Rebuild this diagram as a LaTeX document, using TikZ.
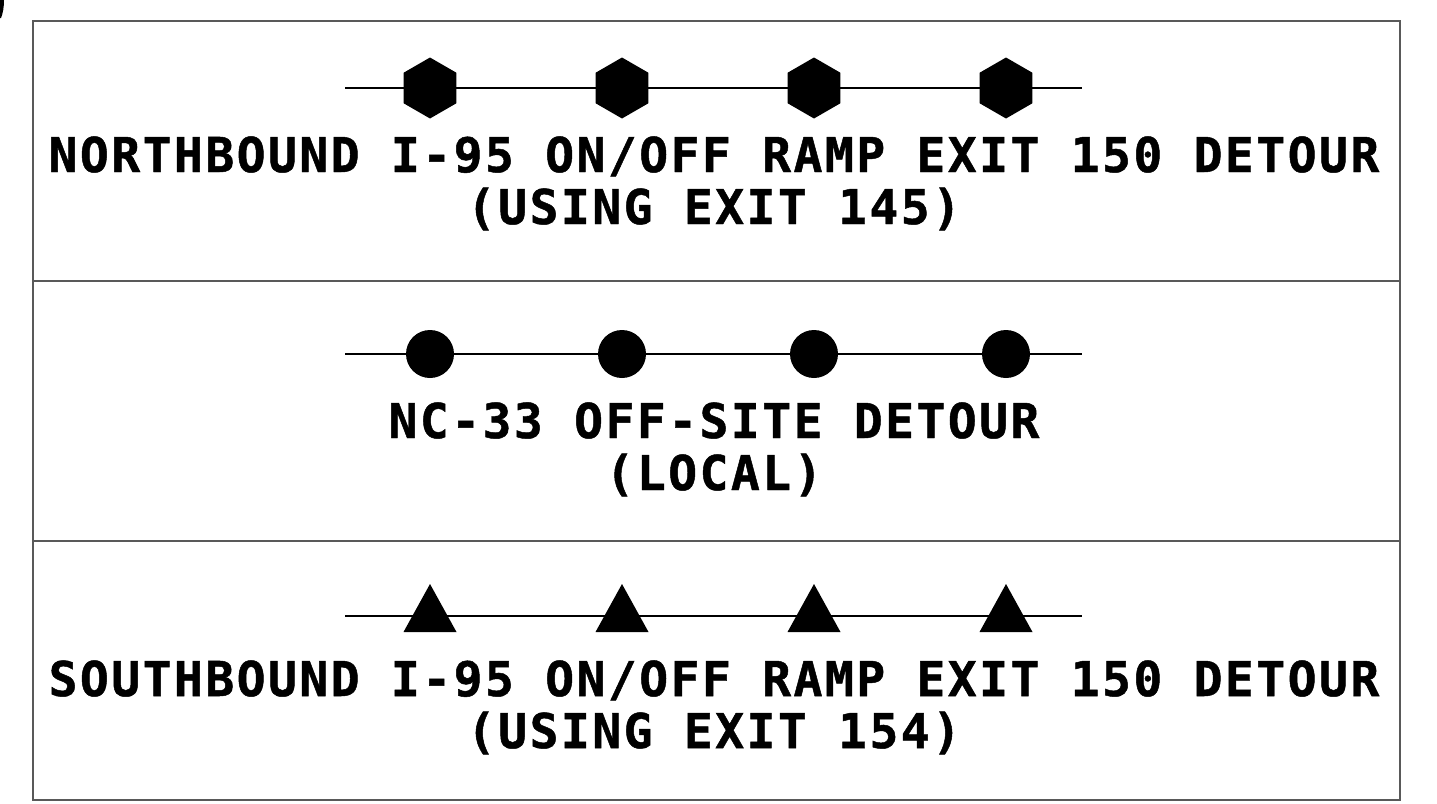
\documentclass[tikz,border=0pt]{standalone}
\usepackage{fontspec}
\newfontfamily\signfont[LetterSpace=5.1,BoldFeatures={FakeBold=1}]{DejaVu Sans Mono}
\begin{document}
\begin{tikzpicture}[x=1pt,y=-1pt,
  frame/.style={draw=black!65,line width=2pt},
  road/.style={draw=black,line width=1.6pt},
  lbl/.style={font=\signfont\bfseries\fontsize{48}{52}\selectfont,inner sep=0pt,anchor=base},
]
\useasboundingbox (0,0) rectangle (1437,803);
% corner mark
\fill (0,0) -- (4,0) .. controls (4,7) and (3,13) .. (1,18) -- (0,18) -- cycle;
% frame
\draw[frame] (33,21) rectangle (1400,800);
\draw[frame] (33,281) -- (1400,281);
\draw[frame] (33,541) -- (1400,541);
% panel 1
\coordinate (a1) at (345,88); \coordinate (b1) at (1082,88);
\draw[road] (a1) -- (b1);
\foreach \x in {430,622,814,1006}{
  \fill (\x,88) +(90:30.5) -- +(150:30.5) -- +(210:30.5) -- +(270:30.5) -- +(330:30.5) -- +(30:30.5) -- cycle;
}
\node[lbl] (t1) at (714,172) {NORTHBOUND I-95 ON/OFF RAMP EXIT 150 DETOUR};
\node[lbl] (t2) at (714,224) {(USING EXIT 145)};
% panel 2
\coordinate (a2) at (345,354); \coordinate (b2) at (1082,354);
\draw[road] (a2) -- (b2);
\foreach \x in {430,622,814,1006}{
  \fill (\x,354) circle (24);
}
\node[lbl] (t3) at (714,438) {NC-33 OFF-SITE DETOUR};
\node[lbl] (t4) at (714,490) {(LOCAL)};
% panel 3
\coordinate (a3) at (345,616); \coordinate (b3) at (1082,616);
\draw[road] (a3) -- (b3);
\foreach \x in {430,622,814,1006}{
  \fill (\x,584) -- (\x+26.5,632) -- (\x-26.5,632) -- cycle;
}
\node[lbl] (t5) at (714,696) {SOUTHBOUND I-95 ON/OFF RAMP EXIT 150 DETOUR};
\node[lbl] (t6) at (714,748) {(USING EXIT 154)};
\end{tikzpicture}
\end{document}
